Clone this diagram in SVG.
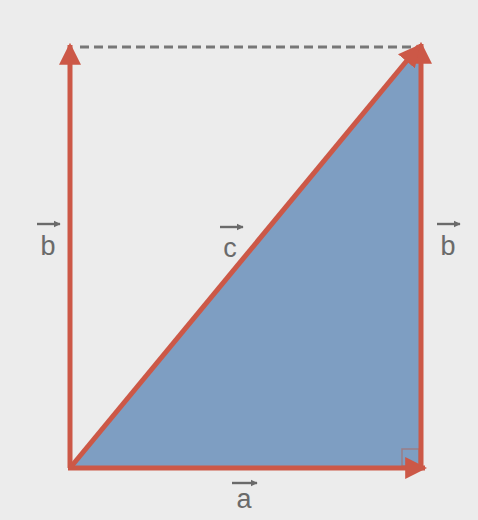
<svg xmlns="http://www.w3.org/2000/svg" width="478" height="520" viewBox="0 0 478 520">
  <defs>
    <marker id="arr" viewBox="0 0 10 10" refX="9" refY="5" markerWidth="4.4" markerHeight="4.4" orient="auto" markerUnits="strokeWidth">
      <path d="M0,0 L10,5 L0,10 Z" fill="#cc5847"/>
    </marker>
    <marker id="lbl" viewBox="0 0 10 10" refX="9" refY="5" markerWidth="3" markerHeight="3" orient="auto" markerUnits="strokeWidth">
      <path d="M0,0 L10,5 L0,10 Z" fill="#6a6a6a"/>
    </marker>
  </defs>
  <style>
    .vec { stroke: #cc5847; stroke-width: 5; fill: none; marker-end: url(#arr); }
    .lab { font-family: "Liberation Sans", Arial, sans-serif; font-size: 27px; fill: #6a6a6a; text-anchor: middle; }
    .over { stroke: #6a6a6a; stroke-width: 2.4; marker-end: url(#lbl); }
  </style>
  <rect x="0" y="0" width="478" height="520" fill="#ececec"/>
  <g id="triangle">
    <polygon points="70,468 419,46 421,46 421,468" fill="#7e9ec2"/>
    <rect x="402" y="449" width="17" height="17" fill="none" stroke="#9a7d86" stroke-width="1.5"/>
  </g>
  <g id="connectors">
    <line x1="80" y1="47" x2="412" y2="47" stroke="#777" stroke-width="3" stroke-dasharray="9 5"/>
    <line id="vec-b-left" class="vec" x1="70" y1="468" x2="70" y2="45"/>
    <line id="vec-a" class="vec" x1="68" y1="468" x2="425" y2="468"/>
    <line id="vec-b-right" class="vec" x1="421" y1="468" x2="421" y2="44"/>
    <line id="vec-c" class="vec" x1="70" y1="468" x2="419" y2="46"/>
  </g>
  <g id="label-b-left">
    <line class="over" x1="37" y1="224" x2="60" y2="224"/>
    <text class="lab" x="48" y="255">b</text>
  </g>
  <g id="label-c">
    <line class="over" x1="220" y1="227" x2="243" y2="227"/>
    <text class="lab" x="230" y="257">c</text>
  </g>
  <g id="label-b-right">
    <line class="over" x1="437" y1="224" x2="460" y2="224"/>
    <text class="lab" x="448" y="255">b</text>
  </g>
  <g id="label-a">
    <line class="over" x1="232" y1="483" x2="257" y2="483"/>
    <text class="lab" x="244" y="508">a</text>
  </g>
</svg>
